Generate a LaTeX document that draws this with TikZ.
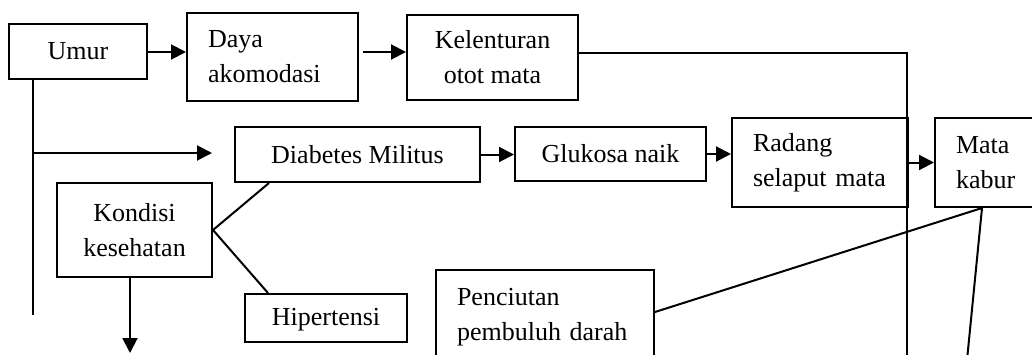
\documentclass[tikz,border=0pt]{standalone}
\usepackage{fontspec}
\setmainfont{Liberation Serif}
\usetikzlibrary{arrows.meta}
\begin{document}
\begin{tikzpicture}[x=0.5pt,y=-0.5pt,
  every node/.style={font=\fontsize{13}{17.5}\selectfont},
  cbox/.style={draw,line width=1pt,align=center,inner sep=2pt},
  lbox/.style={draw,line width=1pt,align=left,inner xsep=10.5pt,inner ysep=0pt},
  conn/.style={line width=1pt},
  arr/.style={line width=1pt,-{Triangle[length=7.5pt,width=7.5pt]}}]
\useasboundingbox (0,0) rectangle (1032,354);
\clip (0,0) rectangle (1032,354);
% boxes
\node[cbox,minimum width=69pt,minimum height=27.5pt] (um) at (78,51.5) {Umur};
\node[lbox,minimum width=85.5pt,minimum height=44pt,text width=64.5pt] (dy) at (272.5,57) {Daya\\akomodasi};
\node[cbox,minimum width=85.5pt,minimum height=42.5pt] (kl) at (492.5,57.5) {Kelenturan\\otot mata};
\node[cbox,minimum width=122.5pt,minimum height=27.5pt] (dm) at (357.5,154.5) {Diabetes Militus};
\node[cbox,minimum width=95.5pt,minimum height=27pt] (gl) at (610.5,154) {Glukosa naik};
\node[lbox,minimum width=88pt,minimum height=44.5pt,text width=67pt] (rd) at (820,162.5) {Radang\\selaput mata};
\node[lbox,minimum width=62.5pt,minimum height=44.5pt,text width=41.5pt] (mk) at (997.5,162.5) {Mata\\kabur};
\node[cbox,minimum width=77.5pt,minimum height=47pt] (kd) at (134.5,230) {Kondisi\\kesehatan};
\node[cbox,minimum width=81pt,minimum height=24pt,text depth=1pt] (hp) at (326,318) {Hipertensi};
\node[lbox,minimum width=109pt,minimum height=47pt,text width=88pt] (pc) at (545,317) {Penciutan\\pembuluh darah};
% helper coordinates
\coordinate (r1) at (0,52);
\coordinate (k1) at (907,53);
\coordinate (k2) at (907,370);
\coordinate (t0) at (33,79);
\coordinate (tb) at (33,153);
\coordinate (t1) at (33,315);
\coordinate (tt) at (212,153);
\coordinate (kb) at (130,353);
\coordinate (mb) at (967,360);
\coordinate (m0) at ([xshift=24pt]mk.south west);
% connectors
\draw[arr] (um.east |- r1) -- (dy.west |- r1);
\draw[arr] ([xshift=2pt]dy.east |- r1) -- (kl.west |- r1);
\draw[conn] (kl.east |- k1) -- (k1) -- (k2);
\draw[conn] (t0) -- (t1);
\draw[arr] (tb) -- (tt);
\draw[arr] (dm.east) -- (dm.east -| gl.west);
\draw[arr] (gl.east) -- (gl.east -| rd.west);
\draw[arr] (rd.east) -- (mk.west);
\draw[conn] ([xshift=17.5pt]dm.south west) -- (kd.east) -- ([xshift=12pt]hp.north west);
\draw[arr] (kd.south -| kb) -- (kb);
\draw[conn] ([yshift=2.5pt]pc.east) -- (m0) -- (mb);
\end{tikzpicture}
\end{document}
